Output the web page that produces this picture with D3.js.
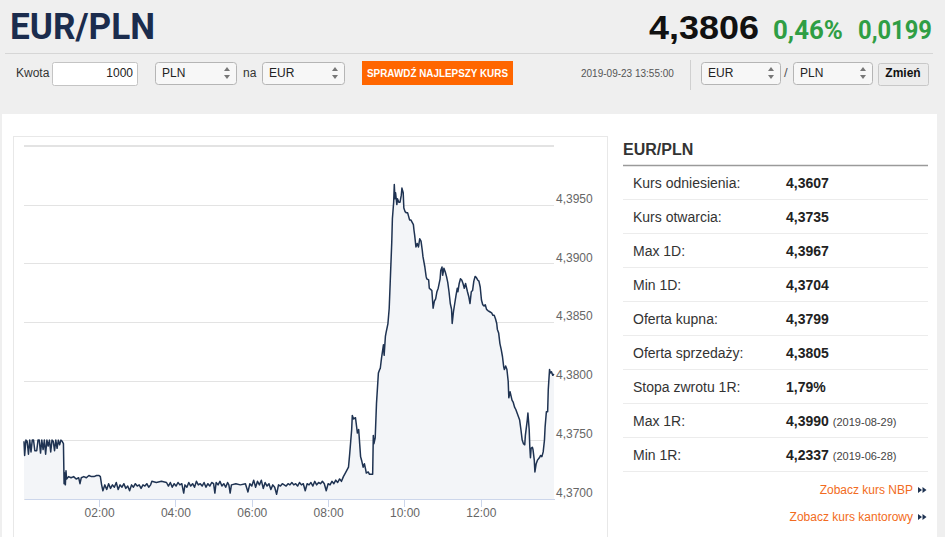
<!DOCTYPE html>
<html><head><meta charset="utf-8">
<script src="https://cdn.jsdelivr.net/npm/d3@7"></script>
<style>html,body{margin:0;padding:0;background:#efefef;overflow:hidden}svg{display:block}</style>
</head><body><svg id="c" width="945" height="537"></svg>
<script>
// ---------- data ----------
const pair = "EUR/PLN";
const lastRate = "4,3806";
const changePct = "0,46%";
const changeAbs = "0,0199";
const timestamp = "2019-09-23 13:55:00";
const amount = "1000";
const xDomain = ["00:02", "13:55"];
const yDomain = [4.37, 4.40];
const yTicks = [4.370, 4.375, 4.380, 4.385, 4.390, 4.395, 4.400];
const xTicks = ["02:00", "04:00", "06:00", "08:00", "10:00", "12:00"];

const nightRates = [
["00:02",4.3749],["00:03",4.3737],["00:05",4.3750],["00:07",4.3749],["00:09",4.3738],["00:11",4.3750],["00:13",4.3740],["00:15",4.3750],["00:17",4.3750],["00:19",4.3741],["00:22",4.3741],["00:24",4.3750],["00:26",4.3750],["00:28",4.3739],["00:30",4.3750],["00:32",4.3742],["00:34",4.3750],["00:36",4.3738],["00:38",4.3750],["00:40",4.3745],["00:42",4.3750],["00:44",4.3740],["00:46",4.3750],["00:48",4.3749],["00:50",4.3741],["00:52",4.3750],["00:54",4.3743],["00:56",4.3750],["00:58",4.3746],["01:00",4.3750],["01:02",4.3749],["01:04",4.3747],["01:05",4.3713],["01:06",4.3722],["01:07",4.3712],["01:08",4.3724],["01:09",4.3717],["01:12",4.3719],["01:16",4.3718],["01:20",4.3719],["01:24",4.3717],["01:28",4.3718],["01:30",4.3713],["01:32",4.3718],["01:36",4.3719],["01:40",4.3718],["01:44",4.3720],["01:48",4.3719],["01:52",4.3719],["01:56",4.3720],["02:00",4.3720],["02:02",4.3719],["02:04",4.3712]
];
const morningRates = [
["02:06",4.3707],["02:09",4.3712],["02:12",4.3708],["02:15",4.3713],["02:18",4.3709],["02:21",4.3712],["02:24",4.3710],["02:27",4.3714],["02:30",4.3708],["02:33",4.3712],["02:36",4.3710],["02:39",4.3713],["02:42",4.3709],["02:45",4.3711],["02:48",4.3707],["02:51",4.3712],["02:54",4.3710],["02:57",4.3713],["03:00",4.3711],["03:03",4.3712],["03:06",4.3709],["03:09",4.3712],["03:12",4.3711],["03:15",4.3713],["03:18",4.3710],["03:21",4.3712],["03:23",4.3715],["03:30",4.3714],["03:38",4.3715],["03:46",4.3714],["03:49",4.3711],["03:52",4.3714],["03:55",4.3710],["03:58",4.3713],["04:01",4.3711],["04:04",4.3714],["04:07",4.3712],["04:10",4.3713],["04:13",4.3705],["04:15",4.3712],["04:18",4.3710],["04:21",4.3714],["04:24",4.3711],["04:27",4.3713],["04:30",4.3710],["04:33",4.3715],["04:36",4.3712],["04:39",4.3713],["04:42",4.3711],["04:45",4.3714],["04:48",4.3710],["04:51",4.3713],["04:54",4.3711],["04:57",4.3714],["05:00",4.3713],["05:02",4.3705],["05:04",4.3714],["05:07",4.3712],["05:10",4.3715],["05:13",4.3711],["05:16",4.3713],["05:19",4.3710],["05:22",4.3714],["05:24",4.3712],["05:26",4.3705],["05:28",4.3712],["05:35",4.3713],["05:42",4.3712],["05:50",4.3713],["05:54",4.3706],["05:57",4.3713],["06:00",4.3711],["06:03",4.3716],["06:06",4.3710],["06:09",4.3715],["06:12",4.3712],["06:15",4.3716],["06:18",4.3709],["06:21",4.3714],["06:24",4.3711],["06:27",4.3713],["06:30",4.3708],["06:33",4.3712],["06:36",4.3710],["06:39",4.3704],["06:42",4.3712],["06:45",4.3711],["06:48",4.3713],["06:51",4.3712],["06:54",4.3711],["06:57",4.3713],["07:00",4.3712],["07:03",4.3714],["07:06",4.3712],["07:09",4.3713],["07:12",4.3711],["07:15",4.3714],["07:18",4.3712],["07:21",4.3713],["07:24",4.3707],["07:27",4.3713],["07:30",4.3712],["07:33",4.3714],["07:36",4.3711],["07:39",4.3715],["07:42",4.3712],["07:45",4.3714],["07:48",4.3713],["07:51",4.3715],["07:54",4.3713],["07:57",4.3707],["08:00",4.3713],["08:03",4.3712],["08:06",4.3715],["08:09",4.3713],["08:12",4.3716],["08:15",4.3714],["08:18",4.3717],["08:21",4.3715],["08:24",4.3719]
];
const dayRates = [
["08:27",4.3722],["08:32",4.3727],["08:34",4.3739],["08:37",4.3759],["08:38",4.3771],["08:40",4.3768],["08:43",4.3769],["08:46",4.3756],["08:48",4.3759],["08:51",4.3736],["08:53",4.3732],["08:55",4.3727],["08:57",4.3730],["08:59",4.3725],["09:00",4.3722],["09:03",4.3723],["09:05",4.3721],["09:10",4.3721],["09:11",4.3754],["09:12",4.3747],["09:14",4.3752],["09:16",4.3781],["09:19",4.3807],["09:21",4.3810],["09:22",4.3811],["09:24",4.3820],["09:27",4.3831],["09:28",4.3822],["09:30",4.3838],["09:31",4.3841],["09:34",4.3849],["09:36",4.3862],["09:38",4.3890],["09:40",4.3918],["09:41",4.3938],["09:43",4.3952],["09:44",4.3967],["09:45",4.3955],["09:46",4.3960],["09:48",4.3950],["09:49",4.3955],["09:51",4.3952],["09:53",4.3952],["09:55",4.3958],["09:56",4.3964],["09:58",4.3960],["09:59",4.3947],["10:01",4.3944],["10:03",4.3943],["10:05",4.3943],["10:08",4.3937],["10:10",4.3937],["10:14",4.3933],["10:15",4.3928],["10:16",4.3924],["10:18",4.3914],["10:20",4.3917],["10:22",4.3914],["10:24",4.3921],["10:26",4.3919],["10:28",4.3911],["10:29",4.3906],["10:32",4.3897],["10:34",4.3889],["10:35",4.3887],["10:38",4.3886],["10:39",4.3879],["10:41",4.3878],["10:43",4.3877],["10:45",4.3862],["10:47",4.3868],["10:49",4.3870],["10:51",4.3876],["10:53",4.3879],["10:56",4.3887],["10:57",4.3894],["10:59",4.3897],["11:00",4.3890],["11:02",4.3896],["11:04",4.3893],["11:06",4.3889],["11:08",4.3884],["11:10",4.3876],["11:12",4.3866],["11:14",4.3861],["11:15",4.3849],["11:17",4.3859],["11:19",4.3866],["11:21",4.3873],["11:23",4.3879],["11:24",4.3876],["11:26",4.3883],["11:28",4.3887],["11:30",4.3886],["11:32",4.3883],["11:34",4.3879],["11:36",4.3883],["11:39",4.3876],["11:41",4.3872],["11:43",4.3866],["11:45",4.3876],["11:47",4.3877],["11:49",4.3885],["11:51",4.3889],["11:53",4.3888],["11:55",4.3886],["11:57",4.3885],["11:59",4.3880],["12:01",4.3869],["12:03",4.3865],["12:05",4.3864],["12:07",4.3865],["12:09",4.3861],["12:11",4.3860],["12:14",4.3859],["12:17",4.3858],["12:19",4.3856],["12:21",4.3856],["12:23",4.3853],["12:25",4.3849],["12:26",4.3844],["12:28",4.3841],["12:30",4.3832],["12:32",4.3827],["12:34",4.3821],["12:36",4.3812],["12:37",4.3810],["12:39",4.3813],["12:41",4.3810],["12:43",4.3800],["12:44",4.3786],["12:46",4.3791],["12:49",4.3784],["12:51",4.3782],["12:53",4.3778],["12:55",4.3776],["12:57",4.3773],["12:59",4.3770],["13:01",4.3767],["13:03",4.3759],["13:05",4.3750],["13:07",4.3747],["13:09",4.3746],["13:10",4.3754],["13:13",4.3767],["13:14",4.3773],["13:16",4.3759],["13:17",4.3744],["13:18",4.3735],["13:19",4.3743],["13:21",4.3744],["13:22",4.3742],["13:24",4.3733],["13:25",4.3723],["13:27",4.3730],["13:29",4.3733],["13:32",4.3735],["13:34",4.3737],["13:36",4.3736],["13:38",4.3740],["13:40",4.3750],["13:41",4.3761],["13:43",4.3774],["13:45",4.3774],["13:46",4.3793],["13:48",4.3810],["13:49",4.3807],["13:51",4.3808],["13:53",4.3805],["13:55",4.3806]
];

const statLabels = ["Kurs odniesienia:","Kurs otwarcia:","Max 1D:","Min 1D:","Oferta kupna:","Oferta sprzedaży:","Stopa zwrotu 1R:","Max 1R:","Min 1R:"];
const statValues = ["4,3607","4,3735","4,3967","4,3704","4,3799","4,3805","1,79%","4,3990","4,2337"];
const statDates  = ["","","","","","","","(2019-08-29)","(2019-06-28)"];
const links = ["Zobacz kurs NBP","Zobacz kurs kantorowy"];

// ---------- drawing ----------
const FONT = "'Liberation Sans', Arial, sans-serif";
const svg = d3.select("#c");
const parseT = d3.timeParse("%H:%M");
const fmt = d => d3.format(".4f")(d).replace(".", ",");

svg.append("rect").attr("width",945).attr("height",537).attr("fill","#efefef");

// header
svg.append("text").attr("x",10).attr("y",39).text(pair)
  .attr("textLength",145).attr("lengthAdjust","spacingAndGlyphs")
  .style("font","bold 36px Roboto, sans-serif").attr("fill","#1b2c4d");
svg.append("text").attr("x",649).attr("y",39).text(lastRate)
  .attr("textLength",110).attr("lengthAdjust","spacingAndGlyphs")
  .style("font","bold 33px " + FONT).attr("fill","#111");
svg.append("text").attr("x",773).attr("y",39).text(changePct)
  .attr("textLength",70).attr("lengthAdjust","spacingAndGlyphs")
  .style("font","bold 25px Roboto, sans-serif").attr("fill","#2f9e44");
svg.append("text").attr("x",858).attr("y",39).text(changeAbs)
  .attr("textLength",74).attr("lengthAdjust","spacingAndGlyphs")
  .style("font","bold 25px Roboto, sans-serif").attr("fill","#2f9e44");
svg.append("line").attr("x1",5).attr("x2",933).attr("y1",53.5).attr("y2",53.5)
  .attr("stroke","#d6d6d6");

// controls row
const base = 77;
function label(x, t, anchor, size, col, weight) {
  return svg.append("text").attr("x",x).attr("y",base).text(t)
    .attr("text-anchor",anchor||"start")
    .style("font",(weight||"normal")+" "+(size||12)+"px "+FONT).attr("fill",col||"#333");
}
function selectBox(x, w, t) {
  svg.append("rect").attr("x",x+0.5).attr("y",62.5).attr("width",w).attr("height",22).attr("rx",3)
    .attr("fill","#f7f7f7").attr("stroke","#b5b5b5");
  label(x+7, t, "start", 12, "#222");
  const ax = x + w - 9;
  svg.append("path").attr("d",`M${ax-3},71 L${ax+3},71 L${ax},67 Z M${ax-3},75 L${ax+3},75 L${ax},79 Z`).attr("fill","#777");
}
label(16,"Kwota");
svg.append("rect").attr("x",52.5).attr("y",62.5).attr("width",85).attr("height",23).attr("rx",2)
  .attr("fill","#fff").attr("stroke","#c4c4c4");
label(133, amount, "end", 12, "#222");
selectBox(155, 81, "PLN");
label(243,"na");
selectBox(262, 82, "EUR");
svg.append("rect").attr("x",362).attr("y",61).attr("width",151).attr("height",24).attr("fill","#ff6600");
svg.append("text").attr("x",367).attr("y",77).text("SPRAWDŹ NAJLEPSZY KURS")
  .attr("textLength",141).attr("lengthAdjust","spacingAndGlyphs")
  .style("font","bold 11px "+FONT).attr("fill","#fff");
label(581, timestamp, "start", 10, "#555");
svg.append("line").attr("x1",690.5).attr("x2",690.5).attr("y1",60).attr("y2",90).attr("stroke","#d0d0d0");
selectBox(701, 79, "EUR");
label(784,"/", "start", 13, "#555");
selectBox(793, 79, "PLN");
svg.append("rect").attr("x",878.5).attr("y",63.5).attr("width",50).attr("height",22).attr("rx",2)
  .attr("fill","#ececec").attr("stroke","#c8c8c8");
label(903,"Zmień","middle",12,"#111","bold");

// white panel
svg.append("rect").attr("x",2).attr("y",114).attr("width",935).attr("height",430).attr("fill","#fff");
svg.append("rect").attr("x",13.5).attr("y",136.5).attr("width",594).attr("height",420)
  .attr("fill","#fff").attr("stroke","#e8e8e8");

// ---------- chart ----------
const data = nightRates.concat(morningRates, dayRates).map(([t, v]) => ({t: parseT(t), v}));
const x = d3.scaleTime().domain(xDomain.map(parseT)).range([24, 554]);
const y = d3.scaleLinear().domain(yDomain).range([499, 145.7]);

const area = d3.area().x(d => x(d.t)).y0(y(yDomain[0])).y1(d => y(d.v));
const line = d3.line().x(d => x(d.t)).y(d => y(d.v));

const yAx = svg.append("g").attr("transform","translate(554,0)")
  .call(d3.axisRight(y).tickValues(yTicks).tickSize(-530).tickPadding(2)
    .tickFormat(d => d >= yDomain[1] - 1e-9 ? "" : fmt(d)));
yAx.select(".domain").remove();
yAx.selectAll(".tick line").attr("stroke","#e3e3e3").attr("shape-rendering","crispEdges")
  .attr("stroke-width", d => d >= yDomain[1] - 1e-9 ? 2.5 : 1);
yAx.selectAll(".tick text").attr("dy","-0.2em").attr("fill","#666")
  .style("font","12px "+FONT);

svg.append("path").datum(data).attr("d",area).attr("fill","#f3f5f8");
svg.append("path").datum(data).attr("d",line).attr("fill","none")
  .attr("stroke","#1f3352").attr("stroke-width",1.5).attr("stroke-linejoin","round");

const xAx = svg.append("g").attr("transform","translate(0,499)")
  .call(d3.axisBottom(x).tickValues(xTicks.map(parseT)).tickSize(8).tickSizeOuter(0).tickPadding(1)
    .tickFormat(d3.timeFormat("%H:%M")));
xAx.select(".domain").attr("stroke","#ccd6eb").attr("shape-rendering","crispEdges");
xAx.selectAll(".tick line").attr("stroke","#ccd6eb").attr("shape-rendering","crispEdges");
xAx.selectAll(".tick text").attr("fill","#666").style("font","12px "+FONT);

// ---------- stats table ----------
svg.append("text").attr("x",623).attr("y",155).text(pair)
  .style("font","bold 16px "+FONT).attr("fill","#333");
svg.append("line").attr("x1",623).attr("x2",928).attr("y1",165.5).attr("y2",165.5)
  .attr("stroke","#9a9a9a").attr("stroke-width",1.5);
statLabels.forEach((lab, i) => {
  const by = 188 + 34 * i;
  svg.append("text").attr("x",633).attr("y",by).text(lab)
    .style("font","14px "+FONT).attr("fill","#333");
  const vt = svg.append("text").attr("x",786).attr("y",by).text(statValues[i])
    .style("font","bold 14px "+FONT).attr("fill","#222");
  if (statDates[i]) {
    const w = vt.node().getComputedTextLength();
    svg.append("text").attr("x",786 + w + 4).attr("y",by).text(statDates[i])
      .style("font","11px "+FONT).attr("fill","#444");
  }
  svg.append("line").attr("x1",623).attr("x2",928).attr("y1",199.5 + 34 * i).attr("y2",199.5 + 34 * i)
    .attr("stroke","#ececec");
});
links.forEach((t, i) => {
  const by = 494 + 27 * i;
  svg.append("text").attr("x",913).attr("y",by).attr("text-anchor","end").text(t)
    .style("font","12px "+FONT).attr("fill","#f26b21");
  const cy = by - 4;
  svg.append("path").attr("d",`M918,${cy-3} L922,${cy} L918,${cy+3} Z M922.5,${cy-3} L926.5,${cy} L922.5,${cy+3} Z`)
    .attr("fill","#1f3352");
});
</script></body></html>
